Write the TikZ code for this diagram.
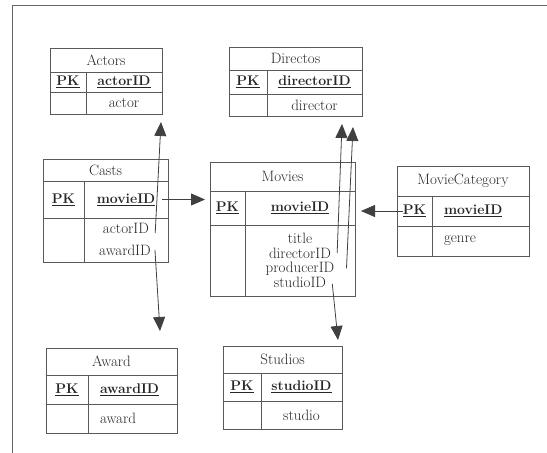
\documentclass[tikz,border=0pt]{standalone}
\usetikzlibrary{positioning,arrows.meta}
\begin{document}
\begin{tikzpicture}[x=1pt,y=-1pt,
    every node/.style={font=\fontsize{15}{17}\selectfont,text=black!85},%
    cell/.style 2 args={draw=black!65,line width=0.8pt,anchor=north west,
      minimum width=#1pt,minimum height=#2pt,inner sep=0pt,outer sep=0pt},%
    lcell/.style={align=left,inner xsep=12pt},%
    key/.style={font=\fontsize{14}{16}\selectfont\bfseries},%
    txt/.style={inner sep=0pt,anchor=base},%
    f/.style={-{Triangle[length=14pt,width=12pt]},draw=black!75,line width=0.8pt}]
    \useasboundingbox (0,0) rectangle (547,453);
    \draw[black!60,line width=1pt] (12,453) -- (12,5) -- (547,5);
    % Actors
    \node[cell={112}{24}] (actT) at (50,48) {Actors};
    \node[cell={36}{20},key] (actPK) at (50,72) {\underline{PK}};
    \node[cell={76}{20},key] (actK) at (86,72) {\underline{actorID}};
    \node[cell={36}{22}] (actB) at (50,92) {};
    \node[cell={76}{22}] (actA) at (86,92) {actor};
    % Directos
    \node[cell={133}{23}] (dirT) at (229,47) {Directos};
    \node[cell={38}{24},key] (dirPK) at (229,70) {\underline{PK}};
    \node[cell={95}{24},key] (dirK) at (267,70) {\underline{directorID}};
    \node[cell={38}{22}] (dirB) at (229,94) {};
    \node[cell={95}{22}] (dirA) at (267,94) {director};
    % Casts
    \node[cell={125}{22}] (castT) at (43,159) {Casts};
    \node[cell={41}{37},key] (castPK) at (43,181) {\underline{PK}};
    \node[cell={84}{37},key] (castK) at (84,181) {\underline{movieID}};
    \node[cell={41}{44}] (castB) at (43,218) {};
    \node[cell={84}{44}] (castA) at (84,218) {};
    \node[txt] (actorID) at (126,233) {actorID};
    \node[txt] (awardID) at (125,255) {awardID};
    % Movies
    \node[cell={145}{29}] (movT) at (210,162) {Movies};
    \node[cell={35}{34},key] (movPK) at (210,191) {\underline{PK}};
    \node[cell={110}{34},key] (movK) at (245,191) {\underline{movieID}};
    \node[cell={35}{71}] (movB) at (210,225) {};
    \node[cell={110}{71}] (movA) at (245,225) {};
    \node[txt] (movTitle) at (300,243) {title};
    \node[txt] (movDir) at (300,258) {directorID};
    \node[txt] (movProd) at (300,272) {producerID};
    \node[txt] (movStd) at (300,287) {studioID};
    % MovieCategory
    \node[cell={132}{30}] (catT) at (397,166) {MovieCategory};
    \node[cell={35}{30},key] (catPK) at (397,196) {\underline{PK}};
    \node[cell={97}{30},key,lcell,text width=73pt] (catK) at (432,196) {\underline{movieID}};
    \node[cell={35}{30}] (catB) at (397,226) {};
    \node[cell={97}{30},lcell,text width=73pt] (catA) at (432,226) {genre};
    % Award
    \node[cell={131}{27}] (awdT) at (46,348) {Award};
    \node[cell={42}{29},key] (awdPK) at (46,375) {\underline{PK}};
    \node[cell={89}{29},key,lcell,text width=65pt] (awdK) at (88,375) {\underline{awardID}};
    \node[cell={42}{29}] (awdB) at (46,404) {};
    \node[cell={89}{29},lcell,text width=65pt] (awdA) at (88,404) {award};
    % Studios
    \node[cell={119}{27}] (stdT) at (223,346) {Studios};
    \node[cell={38}{28},key] (stdPK) at (223,373) {\underline{PK}};
    \node[cell={81}{28},key] (stdK) at (261,373) {\underline{studioID}};
    \node[cell={38}{28}] (stdB) at (223,401) {};
    \node[cell={81}{28}] (stdA) at (261,401) {studio};
    % arrow ends
    \coordinate (actIn) at (161,122);
    \coordinate (awdIn) at (160,331);
    \coordinate (dirIn1) at (342,124);
    \coordinate (dirIn2) at (353,127);
    \coordinate (stdIn) at (338,340);
    \draw[f] ([xshift=6pt]actorID.base east) -- (actIn);
    \draw[f] ([xshift=4pt]awardID.east) -- (awdIn);
    \draw[f,shorten >=5pt] ([xshift=-6pt]castK.east) -- (castK.east -| movT.west);
    \draw[f,shorten >=6pt] ([xshift=6pt]catPK.west) -- (catPK.west -| movK.east);
    \draw[f] ([xshift=6pt]movDir.east) -- (dirIn1);
    \draw[f] ([xshift=12pt]movProd.east) -- (dirIn2);
    \draw[f] ([xshift=6pt,yshift=-2pt]movStd.east) -- (stdIn);
\end{tikzpicture}
\end{document}
